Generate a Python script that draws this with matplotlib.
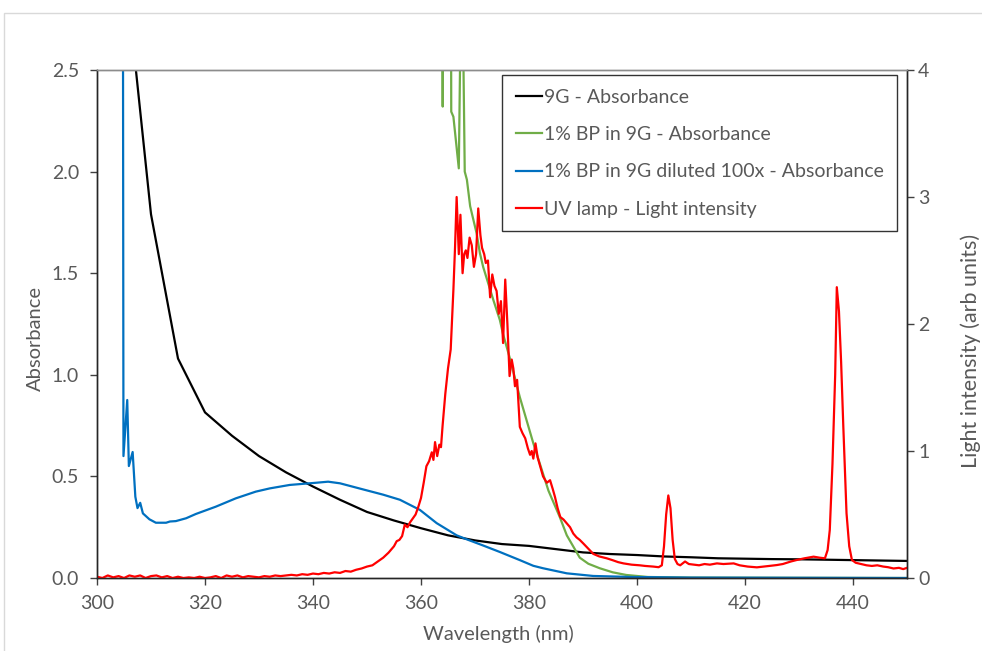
import numpy as np
import matplotlib
matplotlib.use('Agg')
import matplotlib.pyplot as plt
from matplotlib.patches import Rectangle

plt.rcParams['font.family'] = ['Lato', 'DejaVu Sans']

# 9G - Absorbance
wl_9g = [305, 310, 315, 320, 325, 330, 335, 340, 345, 350, 355, 360, 365, 370, 375,
         380, 385, 390, 395, 400, 405, 410, 415, 420, 425, 430, 435, 440, 445, 450]
abs_9g = [3.06, 1.79, 1.08, 0.815, 0.70, 0.60, 0.52, 0.45, 0.385, 0.325, 0.283, 0.245, 0.21, 0.185, 0.167,
          0.158, 0.142, 0.126, 0.118, 0.113, 0.106, 0.102, 0.097, 0.095, 0.093, 0.092, 0.090, 0.088, 0.086, 0.084]

# 1% BP in 9G - Absorbance
wl_bp = [364.0, 364.02, 364.04, 365.55, 365.6, 366.0, 367.0, 367.45, 367.65, 368.1, 368.5, 369.1,
         370.3, 370.9, 371.5, 373.4, 374.6, 375.2, 376.5, 378.3, 380.8, 383.6, 385.7, 387.0, 389.4,
         391.0, 393.1, 395.5, 398.0, 402.0, 410.0, 450.0]
abs_bp = [3.0, 2.32, 3.0, 3.0, 2.295, 2.27, 2.016, 3.0, 3.0, 2.0, 1.96, 1.83,
          1.696, 1.60, 1.532, 1.368, 1.27, 1.2, 1.077, 0.89, 0.663, 0.43, 0.30, 0.21, 0.10,
          0.07, 0.048, 0.028, 0.015, 0.005, 0.002, 0.0]

# 1% BP in 9G diluted 100x - Absorbance
wl_dil = [304.8, 304.9, 305.6, 305.9, 306.6, 307.1, 307.5, 308.0, 308.5, 309.7, 310.9, 312.8, 313.5,
          314.6, 316.5, 318.3, 322.0, 325.7, 329.4, 332.0, 335.7, 340.7, 342.8, 345.0, 348.7, 353.0,
          356.1, 359.8, 362.9, 366.6, 368.5, 371.5, 374.6, 378.3, 380.8, 382.6, 387.0, 391.9, 399.0,
          410.0, 450.0]
abs_dil = [3.0, 0.6, 0.876, 0.551, 0.62, 0.40, 0.344, 0.37, 0.318, 0.289, 0.272, 0.272, 0.278,
           0.28, 0.294, 0.315, 0.351, 0.392, 0.425, 0.441, 0.458, 0.469, 0.474, 0.466, 0.44, 0.41,
           0.385, 0.335, 0.27, 0.21, 0.19, 0.16, 0.128, 0.088, 0.06, 0.048, 0.023, 0.01, 0.005,
           0.002, 0.0]

# UV lamp - Light intensity
wl_uv = [300, 301, 302, 303, 304, 305, 306, 307, 308, 309, 310, 311, 312, 313, 314, 315, 316, 317,
         318, 319, 320, 321, 322, 323, 324, 325, 326, 327, 328, 329, 330, 331, 332, 333, 334, 335,
         336, 337, 338, 339, 340, 341, 342, 343, 344, 345, 346, 347, 348, 349, 350, 351, 352, 353,
         354, 355, 355.5, 356, 356.5, 357, 357.5, 358, 358.5, 359, 359.5, 360, 360.5, 361, 361.5,
         362, 362.3, 362.6, 363, 363.4, 363.7, 364, 364.5, 365, 365.5, 366, 366.3, 366.6, 367.0,
         367.3, 367.7, 368.0, 368.3, 368.6, 369.0, 369.4, 369.8, 370.2, 370.6, 371.0, 371.3, 371.7,
         372.0, 372.4, 372.8, 373.2, 373.6, 374.0, 374.4, 374.8, 375.2, 375.6, 376.0, 376.4, 376.8,
         377.1, 377.4, 377.8, 378.3, 378.8, 379.3, 379.8, 380.2, 380.5, 380.8, 381.2, 381.6, 382.0,
         382.6, 383.3, 383.9, 384.4, 384.8, 385.3, 385.8, 386.4, 387.0, 387.6, 388.2, 388.8, 389.4,
         390.1, 391.0, 391.9, 393.0, 394.4, 395.5, 396.5, 397.5, 399.0, 400.5, 401.5, 403.0, 404.0,
         404.6, 405.0, 405.4, 405.8, 406.2, 406.6, 407.0, 407.5, 408.0, 408.9, 409.6, 410.5, 411.5,
         412.5, 413.5, 414.8, 416.0, 417.9, 419.0, 420.5, 422.2, 423.5, 424.5, 425.9, 427.0, 428.5,
         429.6, 431.0, 432.7, 433.8, 434.8, 435.3, 435.7, 436.2, 436.7, 437.0, 437.4, 437.8, 438.2,
         438.8, 439.3, 439.8, 440.5, 441.5, 442.5, 443.5, 444.5, 445.6, 446.5, 447.5, 448.5, 449.3,
         450.0]
int_uv = [0.01, 0.0, 0.02, 0.005, 0.015, 0.0, 0.02, 0.01, 0.02, 0.0, 0.015, 0.02, 0.005, 0.015,
          0.0, 0.01, 0.0, 0.005, 0.0, 0.01, 0.0, 0.005, 0.015, 0.0, 0.02, 0.01, 0.02, 0.005, 0.015,
          0.01, 0.005, 0.015, 0.01, 0.02, 0.015, 0.02, 0.025, 0.02, 0.03, 0.025, 0.035, 0.03, 0.04,
          0.035, 0.045, 0.04, 0.055, 0.05, 0.065, 0.075, 0.09, 0.1, 0.13, 0.16, 0.2, 0.25, 0.29, 0.3,
          0.33, 0.42, 0.4, 0.44, 0.47, 0.5, 0.56, 0.63, 0.75, 0.88, 0.92, 0.99, 0.93, 1.07, 0.96,
          1.05, 1.03, 1.2, 1.45, 1.65, 1.8, 2.27, 2.6, 3.0, 2.55, 2.86, 2.4, 2.55, 2.58, 2.52, 2.68,
          2.62, 2.45, 2.55, 2.91, 2.7, 2.6, 2.55, 2.48, 2.5, 2.21, 2.39, 2.3, 2.26, 2.08, 2.18, 1.85,
          2.35, 2.0, 1.59, 1.72, 1.65, 1.51, 1.56, 1.19, 1.14, 1.10, 1.02, 0.97, 1.0, 0.94, 1.06,
          0.95, 0.89, 0.80, 0.75, 0.77, 0.70, 0.64, 0.55, 0.48, 0.46, 0.43, 0.40, 0.35, 0.32, 0.30,
          0.27, 0.23, 0.19, 0.17, 0.155, 0.14, 0.125, 0.115, 0.105, 0.10, 0.095, 0.09, 0.085,
          0.1, 0.25, 0.5, 0.65, 0.55, 0.3, 0.15, 0.11, 0.10, 0.13, 0.11, 0.105, 0.1,
          0.11, 0.105, 0.115, 0.11, 0.115, 0.1, 0.09, 0.084, 0.09, 0.095, 0.102, 0.11, 0.13,
          0.142, 0.155, 0.168, 0.16, 0.155, 0.22, 0.378, 0.9, 1.6, 2.29, 2.1, 1.7, 1.2,
          0.51, 0.25, 0.142, 0.12, 0.11, 0.10, 0.095, 0.1, 0.09, 0.085, 0.075, 0.08, 0.07,
          0.08]

x_ticks = [300, 320, 340, 360, 380, 400, 420, 440]
y_ticks = [0.0, 0.5, 1.0, 1.5, 2.0, 2.5]
y2_ticks = [0, 1, 2, 3, 4]

grey = '#595959'
W, H = 982, 651
fig = plt.figure(figsize=(W / 100, H / 100), dpi=100)
fig.patch.set_facecolor('white')

# chart area border (cut off on the right and bottom)
fig.patches.append(Rectangle((4 / W, -0.1), 1.2, (H - 13) / H + 0.1, transform=fig.transFigure,
                             fill=False, edgecolor='#d9d9d9', linewidth=1.0))

ax = fig.add_axes([97 / W, (H - 578) / H, (907 - 97) / W, (578 - 70) / H])
ax2 = ax.twinx()

l1, = ax.plot(wl_9g, abs_9g, color='black', lw=1.6, label='9G - Absorbance')
l2, = ax.plot(wl_bp, abs_bp, color='#70AD47', lw=1.6, label='1% BP in 9G - Absorbance')
l3, = ax.plot(wl_dil, abs_dil, color='#0070C0', lw=1.6, label='1% BP in 9G diluted 100x - Absorbance')
l4, = ax2.plot(wl_uv, int_uv, color='#FF0000', lw=1.6, label='UV lamp - Light intensity')

ax.set_xlim(300, 450)
ax.set_ylim(0, 2.5)
ax2.set_ylim(0, 4)
ax.set_xticks(x_ticks)
ax.set_yticks(y_ticks)
ax.set_yticklabels([f'{v:.1f}' for v in y_ticks])
ax2.set_yticks(y2_ticks)

for a in (ax, ax2):
    a.tick_params(direction='out', length=5, width=1, colors='#404040', labelcolor=grey,
                  labelsize=14)
    for s in a.spines.values():
        s.set_color('#262626')
        s.set_linewidth(1.0)
    a.spines['top'].set_color('#8c8c8c')
ax.tick_params(axis='y', pad=8)
ax.tick_params(axis='x', pad=7)
ax2.tick_params(axis='y', pad=3)

# axis titles placed in figure pixels
fig.text(498 / W, 1 - 634 / H, 'Wavelength (nm)', fontsize=14.5, color=grey,
         ha='center', va='center')
fig.text(35 / W, 1 - 338 / H, 'Absorbance', rotation=90, fontsize=14.5, color=grey,
         ha='center', va='center')
fig.text(971 / W, 1 - 351 / H, 'Light intensity (arb units)', rotation=90, fontsize=15.5,
         color=grey, ha='center', va='center')

leg = ax2.legend(handles=[l1, l2, l3, l4], loc='upper left',
                 bbox_to_anchor=(502 / W, 1 - 75 / H), bbox_transform=fig.transFigure,
                 fontsize=14, frameon=True, fancybox=False, handlelength=1.35,
                 handletextpad=0.1, labelspacing=1.05, borderpad=0.7, borderaxespad=0)
leg.get_frame().set_edgecolor('black')
leg.get_frame().set_linewidth(1.0)
for t in leg.get_texts():
    t.set_color(grey)

fig.savefig('out.png', dpi=100)
